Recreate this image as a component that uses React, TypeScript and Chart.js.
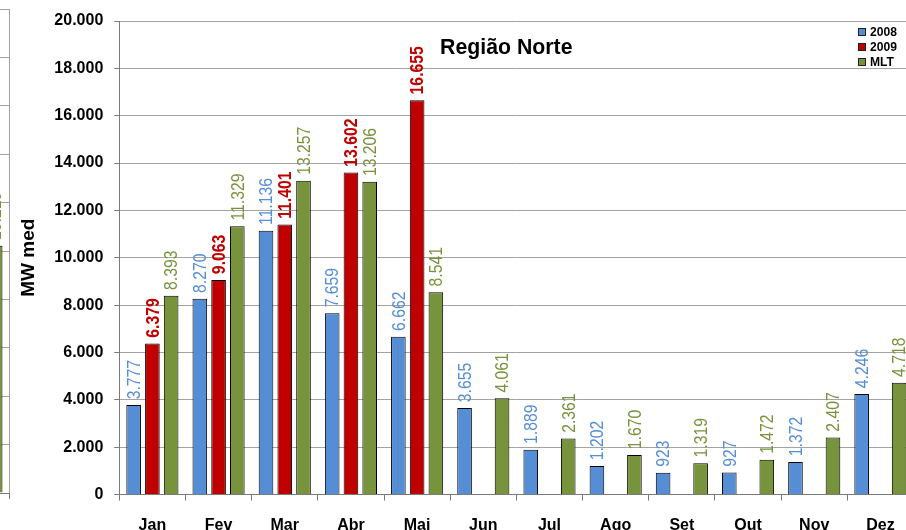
import React, { useEffect, useRef } from 'react';
import { Chart, registerables } from 'chart.js';

Chart.register(...registerables);

// ---------- data ----------
const MONTHS = ['Jan', 'Fev', 'Mar', 'Abr', 'Mai', 'Jun', 'Jul', 'Ago', 'Set', 'Out', 'Nov', 'Dez'];
const SERIES_LABELS = ['2008', '2009', 'MLT'];
const SERIES_2008 = [3777, 8270, 11136, 7659, 6662, 3655, 1889, 1202, 923, 927, 1372, 4246];
const SERIES_2009 = [6379, 9063, 11401, 13602, 16655, null, null, null, null, null, null, null];
const SERIES_MLT = [8393, 11329, 13257, 13206, 8541, 4061, 2361, 1670, 1319, 1472, 2407, 4718];
const Y_MIN = 0;
const Y_MAX = 20000;
const Y_STEP = 2000;
const TITLE = 'Região Norte';
const Y_TITLE = 'MW med';

// edge of the neighbouring chart visible at the far left of the picture
const PREV_CATEGORIES = ['Dez'];
const PREV_2008 = [null];
const PREV_2009 = [null];
const PREV_MLT = [10219];

// ---------- styles ----------
const FONT = '"Liberation Sans", Arial, Helvetica, sans-serif';
const BAR_COLORS = ['#558ED5', '#C00000', '#77933C'];
const LABEL_BOLD = [false, true, false];
const GRID_COLOR = '#a3a3a3';
const AXIS_COLOR = '#7a7a7a';

const fmt = (v: number) =>
  Math.round(v)
    .toString()
    .replace(/\B(?=(\d{3})+(?!\d))/g, '.');

const valueLabels = {
  id: 'valueLabels',
  afterDatasetsDraw(chart: any) {
    const ctx = chart.ctx;
    chart.data.datasets.forEach((ds: any, i: number) => {
      const meta = chart.getDatasetMeta(i);
      if (meta.hidden) return;
      meta.data.forEach((bar: any, j: number) => {
        const v = ds.data[j];
        if (v === null || v === undefined) return;
        ctx.save();
        ctx.translate(bar.x, bar.y - 5.8);
        ctx.rotate(-Math.PI / 2);
        ctx.scale(0.9, 1);
        ctx.font = `${LABEL_BOLD[i] ? 'bold ' : ''}17.5px ${FONT}`;
        ctx.fillStyle = BAR_COLORS[i];
        ctx.textAlign = 'left';
        ctx.textBaseline = 'alphabetic';
        ctx.fillText(fmt(v), 0, 6.3);
        ctx.restore();
      });
    });
  },
};

const titleAndLegend = {
  id: 'titleAndLegend',
  afterDraw(chart: any) {
    const { ctx, chartArea } = chart;
    ctx.save();
    ctx.translate(chartArea.left + 387, chartArea.top + 33);
    ctx.scale(0.955, 1);
    ctx.font = `bold 22.3px ${FONT}`;
    ctx.fillStyle = '#000';
    ctx.textAlign = 'center';
    ctx.textBaseline = 'alphabetic';
    ctx.fillText(TITLE, 0, 0);
    ctx.restore();

    ctx.save();
    chart.data.datasets.forEach((ds: any, i: number) => {
      const cy = chartArea.top + 10.7 + i * 15;
      const sx = Math.round(chartArea.right - 55.5) + 0.5;
      const sy = Math.round(cy - 4) + 0.5;
      ctx.fillStyle = ds.backgroundColor;
      ctx.fillRect(sx, sy, 7, 7);
      ctx.strokeStyle = '#222';
      ctx.lineWidth = 1;
      ctx.strokeRect(sx, sy, 7, 7);
      ctx.save();
      ctx.translate(chartArea.right - 43.5, cy + 0.5);
      ctx.scale(0.91, 1);
      ctx.font = `bold 13.3px ${FONT}`;
      ctx.textAlign = 'left';
      ctx.textBaseline = 'middle';
      ctx.fillStyle = '#000';
      ctx.fillText(ds.label, 0, 0);
      ctx.restore();
    });
    ctx.restore();
  },
};

const makeDatasets = (a: (number | null)[], b: (number | null)[], c: (number | null)[]) =>
  [a, b, c].map((data, i) => ({
    label: SERIES_LABELS[i],
    data,
    backgroundColor: BAR_COLORS[i],
    borderColor: '#000',
    borderWidth: 1,
  }));

const tickFont = { family: FONT, size: 16, weight: 'bold' as const };

export default function App() {
  const mainRef = useRef<HTMLCanvasElement>(null);
  const prevRef = useRef<HTMLCanvasElement>(null);

  useEffect(() => {
    const prev = new Chart(prevRef.current as HTMLCanvasElement, {
      type: 'bar',
      data: { labels: PREV_CATEGORIES, datasets: makeDatasets(PREV_2008, PREV_2009, PREV_MLT) as any },
      plugins: [valueLabels],
      options: {
        responsive: false,
        animation: false,
        devicePixelRatio: 1,
        layout: { padding: { top: 9, right: 0.5, left: 13.3, bottom: 0 } },
        plugins: { legend: { display: false }, title: { display: false }, tooltip: { enabled: false } },
        datasets: { bar: { categoryPercentage: 0.85, barPercentage: 0.78 } },
        scales: {
          x: {
            grid: { offset: true, drawOnChartArea: true, color: GRID_COLOR, drawTicks: true, tickLength: 6, tickColor: AXIS_COLOR },
            border: { color: AXIS_COLOR },
            ticks: { font: tickFont, color: '#000', padding: 15, maxRotation: 0, autoSkip: false },
            afterFit: (s: any) => { s.height = 52; },
          },
          y: {
            min: Y_MIN,
            max: Y_MAX,
            ticks: { display: false, stepSize: Y_STEP },
            grid: { color: GRID_COLOR, drawTicks: false },
            border: { display: false },
            afterFit: (s: any) => { s.width = 0; },
          },
        },
      } as any,
    });

    const main = new Chart(mainRef.current as HTMLCanvasElement, {
      type: 'bar',
      data: { labels: MONTHS, datasets: makeDatasets(SERIES_2008, SERIES_2009, SERIES_MLT) as any },
      plugins: [valueLabels, titleAndLegend],
      options: {
        responsive: false,
        animation: false,
        devicePixelRatio: 1,
        layout: { padding: { top: 21, right: 0.5, left: 0, bottom: 0 } },
        plugins: { legend: { display: false }, title: { display: false }, tooltip: { enabled: false } },
        datasets: { bar: { categoryPercentage: 0.85, barPercentage: 0.78 } },
        scales: {
          x: {
            grid: { offset: true, drawOnChartArea: false, drawTicks: true, tickLength: 6, tickColor: AXIS_COLOR },
            border: { color: AXIS_COLOR },
            ticks: { font: tickFont, color: '#000', padding: 15, maxRotation: 0, autoSkip: false },
            afterFit: (s: any) => { s.height = 50.5; },
          },
          y: {
            min: Y_MIN,
            max: Y_MAX,
            ticks: { stepSize: Y_STEP, font: tickFont, color: '#000', padding: 11, callback: (v: any) => fmt(Number(v)) },
            grid: {
              color: (c: any) => (c.tick && c.tick.value === Y_MIN ? AXIS_COLOR : GRID_COLOR),
              tickColor: AXIS_COLOR,
              tickLength: 5,
            },
            border: { color: AXIS_COLOR },
            title: {
              display: true,
              text: Y_TITLE,
              color: '#000',
              font: { family: FONT, size: 19, weight: 'bold' },
              padding: { top: 17.6, bottom: 0 },
            },
            afterFit: (s: any) => { s.width = 119.3; },
          },
        },
      } as any,
    });

    return () => {
      prev.destroy();
      main.destroy();
    };
  }, []);

  return (
    <div
      style={{
        position: 'fixed',
        left: 0,
        top: 0,
        width: 906,
        height: 530,
        overflow: 'hidden',
        background: '#fff',
      }}
    >
      <canvas
        ref={prevRef}
        width={80}
        height={545}
        style={{ position: 'absolute', left: -70, top: 0, width: 80, height: 545 }}
      />
      <canvas
        ref={mainRef}
        width={914}
        height={545}
        style={{ position: 'absolute', left: 0, top: 0, width: 914, height: 545 }}
      />
    </div>
  );
}
